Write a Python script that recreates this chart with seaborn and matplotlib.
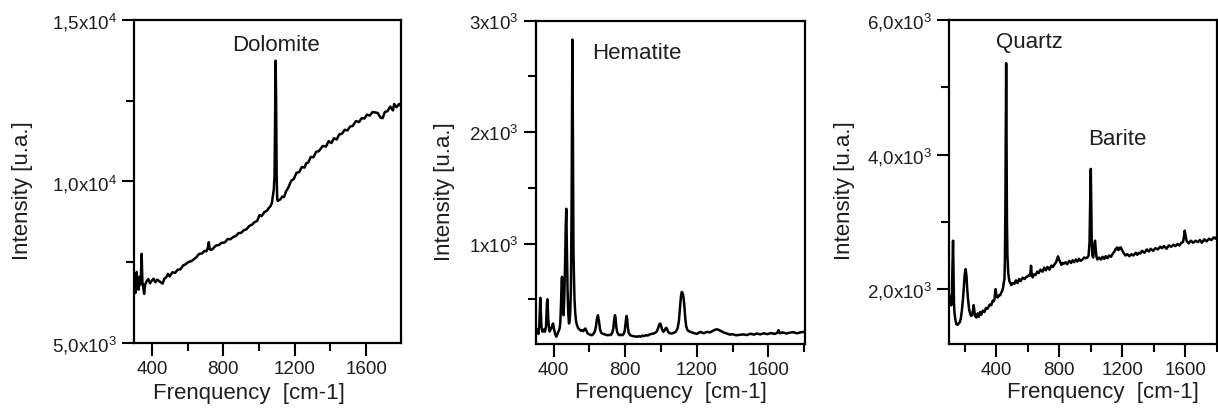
import matplotlib
matplotlib.use("Agg")
import matplotlib.pyplot as plt
import seaborn as sns
import pandas as pd
from matplotlib.ticker import MultipleLocator

# ---------------- data ----------------
dolomite_x = [300, 304, 308, 312, 315, 318, 322, 326, 330, 334, 338, 343, 347, 352, 357, 362, 370, 380, 390, 400,
              410, 420, 430, 440, 450, 460, 470, 480, 490, 500, 515, 530, 545, 560, 575, 590, 605, 620, 635, 650,
              665, 680, 695, 706, 714, 719, 724, 734, 745, 760, 775, 790, 808, 825, 840, 855, 870, 885, 900, 915,
              930, 945, 960, 975, 990, 1003, 1015, 1030, 1045, 1055, 1065, 1072, 1078, 1083, 1087, 1090, 1093,
              1096, 1099, 1102, 1106, 1112, 1120, 1130, 1140, 1152, 1165, 1180, 1195, 1210, 1225, 1240, 1255,
              1264, 1275, 1290, 1305, 1320, 1335, 1357, 1375, 1390, 1405, 1420, 1435, 1450, 1465, 1480, 1495,
              1510, 1525, 1543, 1560, 1575, 1590, 1605, 1620, 1636, 1650, 1665, 1680, 1692, 1705, 1720, 1735,
              1750, 1757, 1770, 1785, 1800]
dolomite_y = [6620, 6700, 6550, 6900, 7200, 6700, 6800, 6650, 7050, 6800, 6900, 7760, 6900, 6700, 6520, 6800, 6900,
              6980, 6850, 6930, 6990, 6880, 6960, 6920, 6880, 6840, 6990, 7030, 7140, 7060, 7190, 7170, 7270, 7280,
              7400, 7440, 7510, 7530, 7590, 7660, 7760, 7770, 7850, 7840, 7960, 8120, 7900, 7880, 7940, 8020, 8030,
              8100, 8110, 8220, 8210, 8280, 8310, 8400, 8410, 8490, 8520, 8620, 8660, 8740, 8780, 8960, 8930, 9050,
              9100, 9180, 9240, 9330, 9560, 9750, 10200, 11800, 13740, 12500, 10200, 9450, 9400, 9420, 9450, 9530,
              9520, 9700, 9820, 10020, 10080, 10270, 10290, 10450, 10430, 10560, 10580, 10760, 10750, 10920, 10940,
              11100, 11080, 11250, 11190, 11340, 11300, 11460, 11480, 11600, 11580, 11700, 11720, 11870, 11840,
              11960, 11950, 12070, 12040, 12150, 12140, 12120, 11980, 11960, 12150, 12180, 12320, 12200, 12400,
              12300, 12400, 12300]

hematite_x = [300, 305, 310, 315, 320, 326, 332, 337, 341, 346, 352, 358, 363, 366, 370, 375, 378, 384, 390, 397,
              403, 409, 415, 422, 428, 434, 438, 442, 445, 447, 450, 453, 456, 460, 464, 468, 471, 474, 478, 482,
              486, 489, 493, 497, 501, 505, 508, 511, 514, 517, 521, 526, 531, 538, 545, 552, 559, 566, 572, 577,
              582, 588, 595, 602, 609, 615, 622, 630, 636, 642, 648, 654, 660, 666, 672, 680, 688, 696, 704, 712,
              720, 728, 734, 739, 743, 746, 750, 755, 762, 769, 776, 784, 792, 798, 804, 808, 811, 815, 820, 828,
              836, 845, 855, 866, 876, 886, 896, 906, 916, 926, 936, 946, 958, 968, 978, 986, 992, 996, 1000, 1006,
              1014, 1020, 1026, 1030, 1035, 1042, 1050, 1061, 1070, 1080, 1088, 1093, 1100, 1106, 1112, 1116, 1120,
              1124, 1128, 1132, 1136, 1141, 1147, 1155, 1164, 1180, 1200, 1220, 1240, 1257, 1275, 1290, 1303, 1313,
              1325, 1340, 1355, 1369, 1385, 1400, 1420, 1443, 1460, 1480, 1500, 1520, 1536, 1555, 1575, 1595, 1615,
              1635, 1650, 1657, 1664, 1680, 1700, 1722, 1740, 1760, 1780, 1796, 1800]
hematite_y = [220, 200, 230, 190, 260, 514, 260, 212, 212, 230, 210, 260, 470, 501, 330, 230, 212, 230, 250, 284,
              230, 190, 165, 190, 215, 239, 300, 480, 650, 702, 560, 400, 358, 520, 800, 1150, 1313, 1000, 600, 380,
              284, 300, 380, 600, 1400, 2830, 2000, 960, 700, 500, 380, 300, 269, 240, 230, 220, 224, 215, 230, 239,
              225, 200, 190, 185, 180, 179, 190, 210, 250, 320, 358, 300, 230, 200, 194, 190, 185, 180, 179, 182,
              180, 200, 240, 320, 358, 340, 260, 210, 185, 179, 185, 178, 190, 220, 310, 352, 330, 250, 200, 179,
              175, 170, 168, 165, 170, 165, 175, 170, 180, 175, 185, 190, 194, 200, 215, 250, 278, 284, 270, 230,
              209, 220, 240, 245, 230, 205, 196, 194, 200, 205, 224, 240, 300, 420, 530, 567, 560, 540, 492, 420,
              330, 260, 230, 215, 209, 200, 190, 208, 196, 209, 204, 218, 228, 232, 225, 212, 200, 194, 184, 188,
              178, 183, 186, 180, 192, 184, 194, 186, 196, 188, 198, 190, 200, 224, 196, 204, 194, 202, 206, 196,
              204, 209, 205]

quartz_x = [105, 110, 115, 119, 122, 126, 129, 132, 135, 140, 147, 155, 162, 168, 175, 182, 189, 195, 200, 206,
            211, 216, 221, 228, 235, 242, 248, 253, 257, 261, 266, 274, 282, 290, 298, 305, 315, 325, 335, 345,
            358, 368, 378, 384, 389, 393, 396, 400, 405, 410, 418, 425, 432, 438, 444, 448, 452, 455, 458, 461,
            463, 465, 468, 471, 476, 483, 490, 495, 505, 515, 525, 535, 545, 555, 568, 580, 590, 600, 608, 615,
            619, 621, 624, 631, 640, 650, 660, 670, 680, 694, 705, 715, 725, 737, 750, 760, 770, 780, 786, 792,
            798, 806, 814, 821, 830, 840, 850, 863, 875, 885, 895, 905, 915, 925, 935, 947, 958, 968, 979, 986,
            992, 996, 1000, 1003, 1006, 1010, 1015, 1021, 1024, 1027, 1031, 1036, 1042, 1053, 1065, 1075, 1085,
            1095, 1105, 1116, 1128, 1140, 1150, 1158, 1163, 1168, 1175, 1183, 1190, 1198, 1210, 1220, 1231, 1245,
            1258, 1270, 1285, 1295, 1305, 1315, 1325, 1340, 1355, 1368, 1380, 1395, 1410, 1425, 1440, 1452, 1465,
            1480, 1495, 1510, 1525, 1537, 1550, 1562, 1575, 1585, 1591, 1596, 1601, 1607, 1621, 1635, 1650, 1665,
            1680, 1692, 1705, 1720, 1735, 1750, 1765, 1780, 1790, 1800]
quartz_y = [1900, 1800, 1760, 1900, 2300, 2720, 2300, 1800, 1653, 1560, 1479, 1470, 1490, 1504, 1560, 1680, 1851,
            2050, 2220, 2298, 2200, 2000, 1851, 1700, 1630, 1603, 1620, 1700, 1762, 1680, 1600, 1578, 1640, 1590,
            1660, 1620, 1680, 1660, 1720, 1710, 1770, 1760, 1830, 1820, 1851, 1950, 2000, 1920, 1880, 1876, 1910,
            1910, 1950, 1975, 2030, 2100, 2149, 2400, 3200, 4500, 5360, 4300, 3000, 2500, 2248, 2120, 2090, 2060,
            2090, 2080, 2130, 2090, 2150, 2120, 2170, 2150, 2180, 2190, 2210, 2200, 2300, 2347, 2250, 2174, 2220,
            2210, 2260, 2240, 2290, 2260, 2320, 2280, 2330, 2290, 2350, 2330, 2370, 2400, 2450, 2487, 2440, 2400,
            2360, 2390, 2380, 2400, 2370, 2420, 2390, 2430, 2400, 2440, 2410, 2450, 2420, 2440, 2470, 2460, 2472,
            2500, 2700, 3300, 3787, 3200, 2700, 2496, 2470, 2600, 2690, 2720, 2600, 2480, 2440, 2470, 2440, 2480,
            2450, 2490, 2460, 2500, 2480, 2530, 2560, 2600, 2596, 2620, 2580, 2610, 2621, 2580, 2530, 2500, 2520,
            2490, 2520, 2500, 2540, 2510, 2540, 2530, 2570, 2540, 2590, 2560, 2600, 2570, 2610, 2590, 2630, 2610,
            2640, 2600, 2650, 2630, 2660, 2640, 2670, 2650, 2690, 2700, 2780, 2869, 2800, 2720, 2680, 2720, 2690,
            2720, 2700, 2730, 2690, 2740, 2710, 2750, 2730, 2770, 2750, 2780]

y1_ticks = [5000, 10000, 15000]
y1_labels = [r"5,0x10$^{3}$", r"1,0x10$^{4}$", r"1,5x10$^{4}$"]
y2_ticks = [1000, 2000, 3000]
y2_labels = [r"1x10$^{3}$", r"2x10$^{3}$", r"3x10$^{3}$"]
y3_ticks = [2000, 4000, 6000]
y3_labels = [r"2,0x10$^{3}$", r"4,0x10$^{3}$", r"6,0x10$^{3}$"]
x_ticks = [400, 800, 1200, 1600]
x_labels = ["400", "800", "1200", "1600"]
annotations = [("Dolomite", 1093, 14235), ("Hematite", 614, 2711), ("Quartz", 610, 5681), ("Barite", 1171, 4243)]

# ---------------- style ----------------
sns.set_style("ticks")
plt.rcParams["font.family"] = ["Liberation Sans", "DejaVu Sans"]
plt.rcParams["mathtext.fontset"] = "custom"
plt.rcParams["mathtext.rm"] = "Liberation Sans"
plt.rcParams["mathtext.it"] = "Liberation Sans:italic"
plt.rcParams["mathtext.bf"] = "Liberation Sans:bold"

TXT = "#1e1e1e"
fig = plt.figure(figsize=(12.18, 4.14), dpi=100)
positions = [
    [0.1100, 0.1691, 0.2192, 0.7802],
    [0.4398, 0.1667, 0.2211, 0.7809],
    [0.7791, 0.1659, 0.2200, 0.7833],
]
axes = [fig.add_axes(p) for p in positions]

series = [(dolomite_x, dolomite_y), (hematite_x, hematite_y), (quartz_x, quartz_y)]
xlims = [(300, 1795), (300, 1805), (100, 1800)]
ylims = [(5000, 15000), (100, 3000), (1180, 6000)]
yticks = [(y1_ticks, y1_labels, 2500), (y2_ticks, y2_labels, 500), (y3_ticks, y3_labels, 1000)]
ylab_coords = [(-0.416, 0.474), (-0.337, 0.474), (-0.388, 0.477)]
xlab_coords = [(0.431, -0.153), (0.502, -0.147), (0.573, -0.145)]

for i, ax in enumerate(axes):
    xs, ys = series[i]
    df = pd.DataFrame({"x": xs, "y": ys})
    sns.lineplot(data=df, x="x", y="y", ax=ax, color="black", linewidth=1.8,
                 estimator=None, sort=False)
    ax.set_xlim(*xlims[i])
    ax.set_ylim(*ylims[i])
    ax.set_xticks(x_ticks, x_labels)
    ax.xaxis.set_minor_locator(MultipleLocator(200))
    t, lab, minor = yticks[i]
    ax.set_yticks(t, lab)
    ax.yaxis.set_minor_locator(MultipleLocator(minor))
    for s in ax.spines.values():
        s.set_visible(True)
        s.set_linewidth(1.6)
        s.set_color("black")
    ax.tick_params(axis="both", which="major", direction="out", length=9, width=1.5,
                   labelsize=13.5, colors="black", labelcolor=TXT, pad=3)
    ax.tick_params(axis="both", which="minor", direction="out", length=5.5, width=1.5, colors="black")
    ax.tick_params(top=False, right=False, which="both")
    ax.set_xlabel("Frenquency  [cm-1]", fontsize=16, color=TXT, va="center")
    ax.set_ylabel("Intensity [u.a.]", fontsize=16, color=TXT, va="center")
    ax.xaxis.set_label_coords(*xlab_coords[i])
    ax.yaxis.set_label_coords(*ylab_coords[i])
    ax.grid(False)

for name, x, y in annotations:
    if name == "Dolomite":
        ax = axes[0]; ha = "center"
    elif name == "Hematite":
        ax = axes[1]; ha = "left"
    else:
        ax = axes[2]; ha = "center"
    ax.text(x, y, name, fontsize=16, color=TXT, ha=ha, va="center")

fig.savefig("out.png", dpi=100)
